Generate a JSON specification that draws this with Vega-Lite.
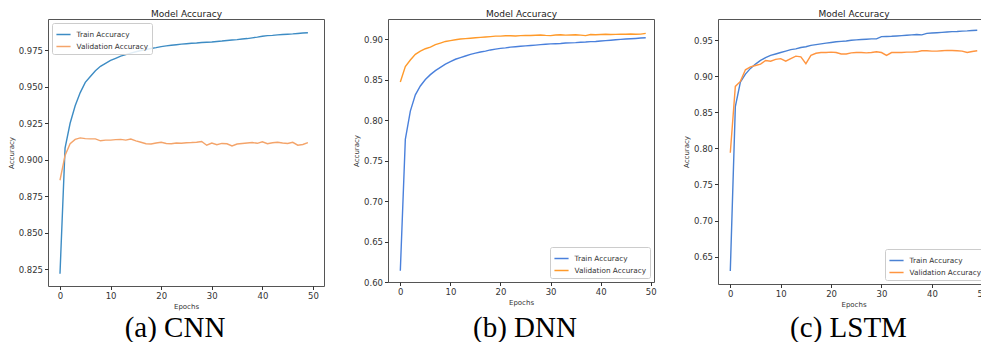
{
"$schema": "https://vega.github.io/schema/vega-lite/v6.json",
"background": "white",
"padding": {"left": 6, "top": 8, "right": 0, "bottom": 0},
"bounds": "flush",
"spacing": 64,
"datasets": {
"cnn": [
{"epoch":0,"series":"Train Accuracy","acc":0.822},{"epoch":1,"series":"Train Accuracy","acc":0.908},{"epoch":2,"series":"Train Accuracy","acc":0.925},{"epoch":3,"series":"Train Accuracy","acc":0.937},{"epoch":4,"series":"Train Accuracy","acc":0.946},{"epoch":5,"series":"Train Accuracy","acc":0.953},{"epoch":6,"series":"Train Accuracy","acc":0.957},{"epoch":7,"series":"Train Accuracy","acc":0.961},{"epoch":8,"series":"Train Accuracy","acc":0.964},{"epoch":9,"series":"Train Accuracy","acc":0.966},
{"epoch":10,"series":"Train Accuracy","acc":0.968},{"epoch":11,"series":"Train Accuracy","acc":0.9695},{"epoch":12,"series":"Train Accuracy","acc":0.971},{"epoch":13,"series":"Train Accuracy","acc":0.972},{"epoch":14,"series":"Train Accuracy","acc":0.973},{"epoch":15,"series":"Train Accuracy","acc":0.974},{"epoch":16,"series":"Train Accuracy","acc":0.9748},{"epoch":17,"series":"Train Accuracy","acc":0.9755},{"epoch":18,"series":"Train Accuracy","acc":0.9762},{"epoch":19,"series":"Train Accuracy","acc":0.9768},
{"epoch":20,"series":"Train Accuracy","acc":0.9775},{"epoch":21,"series":"Train Accuracy","acc":0.978},{"epoch":22,"series":"Train Accuracy","acc":0.9784},{"epoch":23,"series":"Train Accuracy","acc":0.9788},{"epoch":24,"series":"Train Accuracy","acc":0.9792},{"epoch":25,"series":"Train Accuracy","acc":0.9795},{"epoch":26,"series":"Train Accuracy","acc":0.9798},{"epoch":27,"series":"Train Accuracy","acc":0.98},{"epoch":28,"series":"Train Accuracy","acc":0.9803},{"epoch":29,"series":"Train Accuracy","acc":0.9805},
{"epoch":30,"series":"Train Accuracy","acc":0.9807},{"epoch":31,"series":"Train Accuracy","acc":0.981},{"epoch":32,"series":"Train Accuracy","acc":0.9813},{"epoch":33,"series":"Train Accuracy","acc":0.9817},{"epoch":34,"series":"Train Accuracy","acc":0.982},{"epoch":35,"series":"Train Accuracy","acc":0.9823},{"epoch":36,"series":"Train Accuracy","acc":0.9827},{"epoch":37,"series":"Train Accuracy","acc":0.983},{"epoch":38,"series":"Train Accuracy","acc":0.9835},{"epoch":39,"series":"Train Accuracy","acc":0.984},
{"epoch":40,"series":"Train Accuracy","acc":0.9846},{"epoch":41,"series":"Train Accuracy","acc":0.985},{"epoch":42,"series":"Train Accuracy","acc":0.9852},{"epoch":43,"series":"Train Accuracy","acc":0.9855},{"epoch":44,"series":"Train Accuracy","acc":0.9858},{"epoch":45,"series":"Train Accuracy","acc":0.986},{"epoch":46,"series":"Train Accuracy","acc":0.9862},{"epoch":47,"series":"Train Accuracy","acc":0.9865},{"epoch":48,"series":"Train Accuracy","acc":0.9868},{"epoch":49,"series":"Train Accuracy","acc":0.987},
{"epoch":0,"series":"Validation Accuracy","acc":0.886},{"epoch":1,"series":"Validation Accuracy","acc":0.903},{"epoch":2,"series":"Validation Accuracy","acc":0.911},{"epoch":3,"series":"Validation Accuracy","acc":0.914},{"epoch":4,"series":"Validation Accuracy","acc":0.915},{"epoch":5,"series":"Validation Accuracy","acc":0.9145},{"epoch":6,"series":"Validation Accuracy","acc":0.9143},{"epoch":7,"series":"Validation Accuracy","acc":0.9143},{"epoch":8,"series":"Validation Accuracy","acc":0.913},{"epoch":9,"series":"Validation Accuracy","acc":0.9135},
{"epoch":10,"series":"Validation Accuracy","acc":0.9135},{"epoch":11,"series":"Validation Accuracy","acc":0.9138},{"epoch":12,"series":"Validation Accuracy","acc":0.914},{"epoch":13,"series":"Validation Accuracy","acc":0.9135},{"epoch":14,"series":"Validation Accuracy","acc":0.9142},{"epoch":15,"series":"Validation Accuracy","acc":0.913},{"epoch":16,"series":"Validation Accuracy","acc":0.912},{"epoch":17,"series":"Validation Accuracy","acc":0.911},{"epoch":18,"series":"Validation Accuracy","acc":0.9108},{"epoch":19,"series":"Validation Accuracy","acc":0.9115},
{"epoch":20,"series":"Validation Accuracy","acc":0.912},{"epoch":21,"series":"Validation Accuracy","acc":0.9112},{"epoch":22,"series":"Validation Accuracy","acc":0.911},{"epoch":23,"series":"Validation Accuracy","acc":0.9115},{"epoch":24,"series":"Validation Accuracy","acc":0.9113},{"epoch":25,"series":"Validation Accuracy","acc":0.9117},{"epoch":26,"series":"Validation Accuracy","acc":0.9118},{"epoch":27,"series":"Validation Accuracy","acc":0.912},{"epoch":28,"series":"Validation Accuracy","acc":0.9125},{"epoch":29,"series":"Validation Accuracy","acc":0.91},
{"epoch":30,"series":"Validation Accuracy","acc":0.9115},{"epoch":31,"series":"Validation Accuracy","acc":0.9103},{"epoch":32,"series":"Validation Accuracy","acc":0.9112},{"epoch":33,"series":"Validation Accuracy","acc":0.911},{"epoch":34,"series":"Validation Accuracy","acc":0.9095},{"epoch":35,"series":"Validation Accuracy","acc":0.9108},{"epoch":36,"series":"Validation Accuracy","acc":0.9112},{"epoch":37,"series":"Validation Accuracy","acc":0.9115},{"epoch":38,"series":"Validation Accuracy","acc":0.9118},{"epoch":39,"series":"Validation Accuracy","acc":0.9113},
{"epoch":40,"series":"Validation Accuracy","acc":0.9123},{"epoch":41,"series":"Validation Accuracy","acc":0.911},{"epoch":42,"series":"Validation Accuracy","acc":0.9117},{"epoch":43,"series":"Validation Accuracy","acc":0.912},{"epoch":44,"series":"Validation Accuracy","acc":0.9115},{"epoch":45,"series":"Validation Accuracy","acc":0.9112},{"epoch":46,"series":"Validation Accuracy","acc":0.912},{"epoch":47,"series":"Validation Accuracy","acc":0.91},{"epoch":48,"series":"Validation Accuracy","acc":0.9105},{"epoch":49,"series":"Validation Accuracy","acc":0.9118}
],
"dnn": [
{"epoch":0,"series":"Train Accuracy","acc":0.614},{"epoch":1,"series":"Train Accuracy","acc":0.776},{"epoch":2,"series":"Train Accuracy","acc":0.811},{"epoch":3,"series":"Train Accuracy","acc":0.831},{"epoch":4,"series":"Train Accuracy","acc":0.842},{"epoch":5,"series":"Train Accuracy","acc":0.85},{"epoch":6,"series":"Train Accuracy","acc":0.856},{"epoch":7,"series":"Train Accuracy","acc":0.861},{"epoch":8,"series":"Train Accuracy","acc":0.865},{"epoch":9,"series":"Train Accuracy","acc":0.869},
{"epoch":10,"series":"Train Accuracy","acc":0.872},{"epoch":11,"series":"Train Accuracy","acc":0.875},{"epoch":12,"series":"Train Accuracy","acc":0.877},{"epoch":13,"series":"Train Accuracy","acc":0.879},{"epoch":14,"series":"Train Accuracy","acc":0.881},{"epoch":15,"series":"Train Accuracy","acc":0.8825},{"epoch":16,"series":"Train Accuracy","acc":0.884},{"epoch":17,"series":"Train Accuracy","acc":0.885},{"epoch":18,"series":"Train Accuracy","acc":0.8865},{"epoch":19,"series":"Train Accuracy","acc":0.8875},
{"epoch":20,"series":"Train Accuracy","acc":0.8885},{"epoch":21,"series":"Train Accuracy","acc":0.889},{"epoch":22,"series":"Train Accuracy","acc":0.89},{"epoch":23,"series":"Train Accuracy","acc":0.8905},{"epoch":24,"series":"Train Accuracy","acc":0.891},{"epoch":25,"series":"Train Accuracy","acc":0.8915},{"epoch":26,"series":"Train Accuracy","acc":0.892},{"epoch":27,"series":"Train Accuracy","acc":0.8925},{"epoch":28,"series":"Train Accuracy","acc":0.893},{"epoch":29,"series":"Train Accuracy","acc":0.8935},
{"epoch":30,"series":"Train Accuracy","acc":0.894},{"epoch":31,"series":"Train Accuracy","acc":0.8942},{"epoch":32,"series":"Train Accuracy","acc":0.8945},{"epoch":33,"series":"Train Accuracy","acc":0.895},{"epoch":34,"series":"Train Accuracy","acc":0.8952},{"epoch":35,"series":"Train Accuracy","acc":0.8955},{"epoch":36,"series":"Train Accuracy","acc":0.896},{"epoch":37,"series":"Train Accuracy","acc":0.8963},{"epoch":38,"series":"Train Accuracy","acc":0.8968},{"epoch":39,"series":"Train Accuracy","acc":0.897},
{"epoch":40,"series":"Train Accuracy","acc":0.8975},{"epoch":41,"series":"Train Accuracy","acc":0.898},{"epoch":42,"series":"Train Accuracy","acc":0.8985},{"epoch":43,"series":"Train Accuracy","acc":0.899},{"epoch":44,"series":"Train Accuracy","acc":0.8995},{"epoch":45,"series":"Train Accuracy","acc":0.9},{"epoch":46,"series":"Train Accuracy","acc":0.9003},{"epoch":47,"series":"Train Accuracy","acc":0.9007},{"epoch":48,"series":"Train Accuracy","acc":0.9012},{"epoch":49,"series":"Train Accuracy","acc":0.9016},
{"epoch":0,"series":"Validation Accuracy","acc":0.847},{"epoch":1,"series":"Validation Accuracy","acc":0.866},{"epoch":2,"series":"Validation Accuracy","acc":0.874},{"epoch":3,"series":"Validation Accuracy","acc":0.881},{"epoch":4,"series":"Validation Accuracy","acc":0.885},{"epoch":5,"series":"Validation Accuracy","acc":0.888},{"epoch":6,"series":"Validation Accuracy","acc":0.89},{"epoch":7,"series":"Validation Accuracy","acc":0.893},{"epoch":8,"series":"Validation Accuracy","acc":0.895},{"epoch":9,"series":"Validation Accuracy","acc":0.897},
{"epoch":10,"series":"Validation Accuracy","acc":0.898},{"epoch":11,"series":"Validation Accuracy","acc":0.899},{"epoch":12,"series":"Validation Accuracy","acc":0.9},{"epoch":13,"series":"Validation Accuracy","acc":0.9005},{"epoch":14,"series":"Validation Accuracy","acc":0.901},{"epoch":15,"series":"Validation Accuracy","acc":0.9015},{"epoch":16,"series":"Validation Accuracy","acc":0.902},{"epoch":17,"series":"Validation Accuracy","acc":0.9025},{"epoch":18,"series":"Validation Accuracy","acc":0.903},{"epoch":19,"series":"Validation Accuracy","acc":0.9035},
{"epoch":20,"series":"Validation Accuracy","acc":0.9035},{"epoch":21,"series":"Validation Accuracy","acc":0.904},{"epoch":22,"series":"Validation Accuracy","acc":0.904},{"epoch":23,"series":"Validation Accuracy","acc":0.9038},{"epoch":24,"series":"Validation Accuracy","acc":0.9042},{"epoch":25,"series":"Validation Accuracy","acc":0.9045},{"epoch":26,"series":"Validation Accuracy","acc":0.9043},{"epoch":27,"series":"Validation Accuracy","acc":0.9047},{"epoch":28,"series":"Validation Accuracy","acc":0.905},{"epoch":29,"series":"Validation Accuracy","acc":0.9045},
{"epoch":30,"series":"Validation Accuracy","acc":0.9042},{"epoch":31,"series":"Validation Accuracy","acc":0.905},{"epoch":32,"series":"Validation Accuracy","acc":0.9052},{"epoch":33,"series":"Validation Accuracy","acc":0.9048},{"epoch":34,"series":"Validation Accuracy","acc":0.905},{"epoch":35,"series":"Validation Accuracy","acc":0.9052},{"epoch":36,"series":"Validation Accuracy","acc":0.9048},{"epoch":37,"series":"Validation Accuracy","acc":0.9042},{"epoch":38,"series":"Validation Accuracy","acc":0.9055},{"epoch":39,"series":"Validation Accuracy","acc":0.9053},
{"epoch":40,"series":"Validation Accuracy","acc":0.9056},{"epoch":41,"series":"Validation Accuracy","acc":0.9058},{"epoch":42,"series":"Validation Accuracy","acc":0.9055},{"epoch":43,"series":"Validation Accuracy","acc":0.9057},{"epoch":44,"series":"Validation Accuracy","acc":0.906},{"epoch":45,"series":"Validation Accuracy","acc":0.9058},{"epoch":46,"series":"Validation Accuracy","acc":0.9062},{"epoch":47,"series":"Validation Accuracy","acc":0.9058},{"epoch":48,"series":"Validation Accuracy","acc":0.906},{"epoch":49,"series":"Validation Accuracy","acc":0.907}
],
"lstm": [
{"epoch":0,"series":"Train Accuracy","acc":0.63},{"epoch":1,"series":"Train Accuracy","acc":0.858},{"epoch":2,"series":"Train Accuracy","acc":0.892},{"epoch":3,"series":"Train Accuracy","acc":0.903},{"epoch":4,"series":"Train Accuracy","acc":0.911},{"epoch":5,"series":"Train Accuracy","acc":0.917},{"epoch":6,"series":"Train Accuracy","acc":0.922},{"epoch":7,"series":"Train Accuracy","acc":0.926},{"epoch":8,"series":"Train Accuracy","acc":0.929},{"epoch":9,"series":"Train Accuracy","acc":0.931},
{"epoch":10,"series":"Train Accuracy","acc":0.933},{"epoch":11,"series":"Train Accuracy","acc":0.935},{"epoch":12,"series":"Train Accuracy","acc":0.937},{"epoch":13,"series":"Train Accuracy","acc":0.938},{"epoch":14,"series":"Train Accuracy","acc":0.94},{"epoch":15,"series":"Train Accuracy","acc":0.941},{"epoch":16,"series":"Train Accuracy","acc":0.943},{"epoch":17,"series":"Train Accuracy","acc":0.944},{"epoch":18,"series":"Train Accuracy","acc":0.945},{"epoch":19,"series":"Train Accuracy","acc":0.946},
{"epoch":20,"series":"Train Accuracy","acc":0.947},{"epoch":21,"series":"Train Accuracy","acc":0.948},{"epoch":22,"series":"Train Accuracy","acc":0.9485},{"epoch":23,"series":"Train Accuracy","acc":0.949},{"epoch":24,"series":"Train Accuracy","acc":0.95},{"epoch":25,"series":"Train Accuracy","acc":0.9505},{"epoch":26,"series":"Train Accuracy","acc":0.951},{"epoch":27,"series":"Train Accuracy","acc":0.9515},{"epoch":28,"series":"Train Accuracy","acc":0.952},{"epoch":29,"series":"Train Accuracy","acc":0.952},
{"epoch":30,"series":"Train Accuracy","acc":0.955},{"epoch":31,"series":"Train Accuracy","acc":0.9552},{"epoch":32,"series":"Train Accuracy","acc":0.9555},{"epoch":33,"series":"Train Accuracy","acc":0.956},{"epoch":34,"series":"Train Accuracy","acc":0.9565},{"epoch":35,"series":"Train Accuracy","acc":0.957},{"epoch":36,"series":"Train Accuracy","acc":0.9575},{"epoch":37,"series":"Train Accuracy","acc":0.958},{"epoch":38,"series":"Train Accuracy","acc":0.9575},{"epoch":39,"series":"Train Accuracy","acc":0.9595},
{"epoch":40,"series":"Train Accuracy","acc":0.96},{"epoch":41,"series":"Train Accuracy","acc":0.9605},{"epoch":42,"series":"Train Accuracy","acc":0.961},{"epoch":43,"series":"Train Accuracy","acc":0.9615},{"epoch":44,"series":"Train Accuracy","acc":0.962},{"epoch":45,"series":"Train Accuracy","acc":0.9622},{"epoch":46,"series":"Train Accuracy","acc":0.9627},{"epoch":47,"series":"Train Accuracy","acc":0.963},{"epoch":48,"series":"Train Accuracy","acc":0.9635},{"epoch":49,"series":"Train Accuracy","acc":0.964},
{"epoch":0,"series":"Validation Accuracy","acc":0.794},{"epoch":1,"series":"Validation Accuracy","acc":0.886},{"epoch":2,"series":"Validation Accuracy","acc":0.893},{"epoch":3,"series":"Validation Accuracy","acc":0.909},{"epoch":4,"series":"Validation Accuracy","acc":0.913},{"epoch":5,"series":"Validation Accuracy","acc":0.915},{"epoch":6,"series":"Validation Accuracy","acc":0.917},{"epoch":7,"series":"Validation Accuracy","acc":0.922},{"epoch":8,"series":"Validation Accuracy","acc":0.921},{"epoch":9,"series":"Validation Accuracy","acc":0.9235},
{"epoch":10,"series":"Validation Accuracy","acc":0.9245},{"epoch":11,"series":"Validation Accuracy","acc":0.921},{"epoch":12,"series":"Validation Accuracy","acc":0.9245},{"epoch":13,"series":"Validation Accuracy","acc":0.928},{"epoch":14,"series":"Validation Accuracy","acc":0.927},{"epoch":15,"series":"Validation Accuracy","acc":0.9175},{"epoch":16,"series":"Validation Accuracy","acc":0.929},{"epoch":17,"series":"Validation Accuracy","acc":0.932},{"epoch":18,"series":"Validation Accuracy","acc":0.933},{"epoch":19,"series":"Validation Accuracy","acc":0.933},
{"epoch":20,"series":"Validation Accuracy","acc":0.9335},{"epoch":21,"series":"Validation Accuracy","acc":0.933},{"epoch":22,"series":"Validation Accuracy","acc":0.931},{"epoch":23,"series":"Validation Accuracy","acc":0.931},{"epoch":24,"series":"Validation Accuracy","acc":0.9325},{"epoch":25,"series":"Validation Accuracy","acc":0.933},{"epoch":26,"series":"Validation Accuracy","acc":0.933},{"epoch":27,"series":"Validation Accuracy","acc":0.9325},{"epoch":28,"series":"Validation Accuracy","acc":0.933},{"epoch":29,"series":"Validation Accuracy","acc":0.934},
{"epoch":30,"series":"Validation Accuracy","acc":0.933},{"epoch":31,"series":"Validation Accuracy","acc":0.929},{"epoch":32,"series":"Validation Accuracy","acc":0.933},{"epoch":33,"series":"Validation Accuracy","acc":0.933},{"epoch":34,"series":"Validation Accuracy","acc":0.933},{"epoch":35,"series":"Validation Accuracy","acc":0.9335},{"epoch":36,"series":"Validation Accuracy","acc":0.9335},{"epoch":37,"series":"Validation Accuracy","acc":0.934},{"epoch":38,"series":"Validation Accuracy","acc":0.9355},{"epoch":39,"series":"Validation Accuracy","acc":0.9355},
{"epoch":40,"series":"Validation Accuracy","acc":0.935},{"epoch":41,"series":"Validation Accuracy","acc":0.935},{"epoch":42,"series":"Validation Accuracy","acc":0.9355},{"epoch":43,"series":"Validation Accuracy","acc":0.936},{"epoch":44,"series":"Validation Accuracy","acc":0.9358},{"epoch":45,"series":"Validation Accuracy","acc":0.9355},{"epoch":46,"series":"Validation Accuracy","acc":0.935},{"epoch":47,"series":"Validation Accuracy","acc":0.933},{"epoch":48,"series":"Validation Accuracy","acc":0.9345},{"epoch":49,"series":"Validation Accuracy","acc":0.9355}
]
},
"hconcat": [
{
"data": {"name": "cnn"},
"width": 276, "height": 267,
"title": {"text": "(a) CNN", "orient": "bottom", "font": "Liberation Serif", "fontSize": 29, "color": "black", "baseline": "alphabetic", "offset": 28, "dx": -11, "anchor": "middle", "frame": "group"},
"layer": [
{"mark": {"type": "line", "strokeWidth": 1.4},
"encoding": {
"x": {"field": "epoch", "type": "quantitative", "scale": {"domain": [-2.37, 52.18], "nice": false, "zero": false}, "axis": {"values": [0,10,20,30,40,50], "title": "Epochs", "format": "d"}},
"y": {"field": "acc", "type": "quantitative", "scale": {"domain": [0.8136, 0.9964], "nice": false, "zero": false}, "axis": {"values": [0.825,0.85,0.875,0.9,0.925,0.95,0.975], "format": ".3f", "title": "Accuracy"}},
"color": {"field": "series", "type": "nominal", "scale": {"domain": ["Train Accuracy","Validation Accuracy"], "range": ["#3d8cc4","#f4a46a"]}, "legend": {"title": null, "orient": "top-left"}}
}},
{"mark": {"type": "line", "opacity": 0},
"encoding": {
"x": {"field": "epoch", "type": "quantitative", "scale": {"domain": [-2.37, 52.18], "nice": false, "zero": false}, "axis": {"orient": "top", "title": "Model Accuracy", "labels": false, "ticks": false, "domain": false, "titleFontSize": 9, "titleColor": "#222222", "titlePadding": 3, "titleBaseline": "alphabetic"}},
"detail": {"field": "series"}
}}
],
"resolve": {"axis": {"x": "independent"}}
},
{
"data": {"name": "dnn"},
"width": 266, "height": 263,
"title": {"text": "(b) DNN", "orient": "bottom", "font": "Liberation Serif", "fontSize": 29, "color": "black", "baseline": "alphabetic", "offset": 32, "dx": 4, "anchor": "middle", "frame": "group"},
"layer": [
{"mark": {"type": "line", "strokeWidth": 1.4},
"encoding": {
"x": {"field": "epoch", "type": "quantitative", "scale": {"domain": [-2.46, 50.65], "nice": false, "zero": false}, "axis": {"values": [0,10,20,30,40,50], "title": "Epochs", "format": "d"}},
"y": {"field": "acc", "type": "quantitative", "scale": {"domain": [0.6, 0.9247], "nice": false, "zero": false}, "axis": {"values": [0.6,0.65,0.7,0.75,0.8,0.85,0.9], "format": ".2f", "title": "Accuracy"}},
"color": {"field": "series", "type": "nominal", "scale": {"domain": ["Train Accuracy","Validation Accuracy"], "range": ["#4a80dc","#ff9a2a"]}, "legend": {"title": null, "orient": "bottom-right"}}
}},
{"mark": {"type": "line", "opacity": 0},
"encoding": {
"x": {"field": "epoch", "type": "quantitative", "scale": {"domain": [-2.46, 50.65], "nice": false, "zero": false}, "axis": {"orient": "top", "title": "Model Accuracy", "labels": false, "ticks": false, "domain": false, "titleFontSize": 9, "titleColor": "#222222", "titlePadding": 3, "titleBaseline": "alphabetic"}},
"detail": {"field": "series"}
}}
],
"resolve": {"axis": {"x": "independent"}}
},
{
"data": {"name": "lstm"},
"width": 271, "height": 265,
"title": {"text": "(c) LSTM", "orient": "bottom", "font": "Liberation Serif", "fontSize": 29, "color": "black", "baseline": "alphabetic", "offset": 30, "dx": -5, "anchor": "middle", "frame": "group"},
"layer": [
{"mark": {"type": "line", "strokeWidth": 1.4},
"encoding": {
"x": {"field": "epoch", "type": "quantitative", "scale": {"domain": [-2.44, 51.33], "nice": false, "zero": false}, "axis": {"values": [0,10,20,30,40,50], "title": "Epochs", "format": "d"}},
"y": {"field": "acc", "type": "quantitative", "scale": {"domain": [0.612, 0.9795], "nice": false, "zero": false}, "axis": {"values": [0.65,0.7,0.75,0.8,0.85,0.9,0.95], "format": ".2f", "title": "Accuracy"}},
"color": {"field": "series", "type": "nominal", "scale": {"domain": ["Train Accuracy","Validation Accuracy"], "range": ["#4a82d4","#ff9540"]}, "legend": {"title": null, "orient": "bottom-right"}}
}},
{"mark": {"type": "line", "opacity": 0},
"encoding": {
"x": {"field": "epoch", "type": "quantitative", "scale": {"domain": [-2.44, 51.33], "nice": false, "zero": false}, "axis": {"orient": "top", "title": "Model Accuracy", "labels": false, "ticks": false, "domain": false, "titleFontSize": 9, "titleColor": "#222222", "titlePadding": 3, "titleBaseline": "alphabetic"}},
"detail": {"field": "series"}
}}
],
"resolve": {"axis": {"x": "independent"}}
}
],
"resolve": {"scale": {"color": "independent"}, "legend": {"color": "independent"}},
"config": {
"view": {"stroke": "#555555", "strokeWidth": 1},
"axis": {"domain": false, "grid": false, "tickColor": "#333333", "tickSize": 3.5, "labelFont": "DejaVu Sans", "labelFontSize": 8.5, "labelColor": "#333333", "titleFont": "DejaVu Sans", "titleFontSize": 7, "titleFontWeight": "normal", "titleColor": "#333333", "labelPadding": 2, "titlePadding": 4},
"axisX": {"titlePadding": 2},
"legend": {"labelFont": "DejaVu Sans", "labelFontSize": 7.3, "labelColor": "#333333", "symbolType": "stroke", "symbolSize": 200, "symbolStrokeWidth": 1.5, "labelOffset": 5, "rowPadding": -1, "padding": 3.5, "fillColor": "rgba(255,255,255,0.85)", "strokeColor": "#cccccc", "cornerRadius": 2, "offset": 4},
"title": {"fontWeight": "normal"}
}
}
